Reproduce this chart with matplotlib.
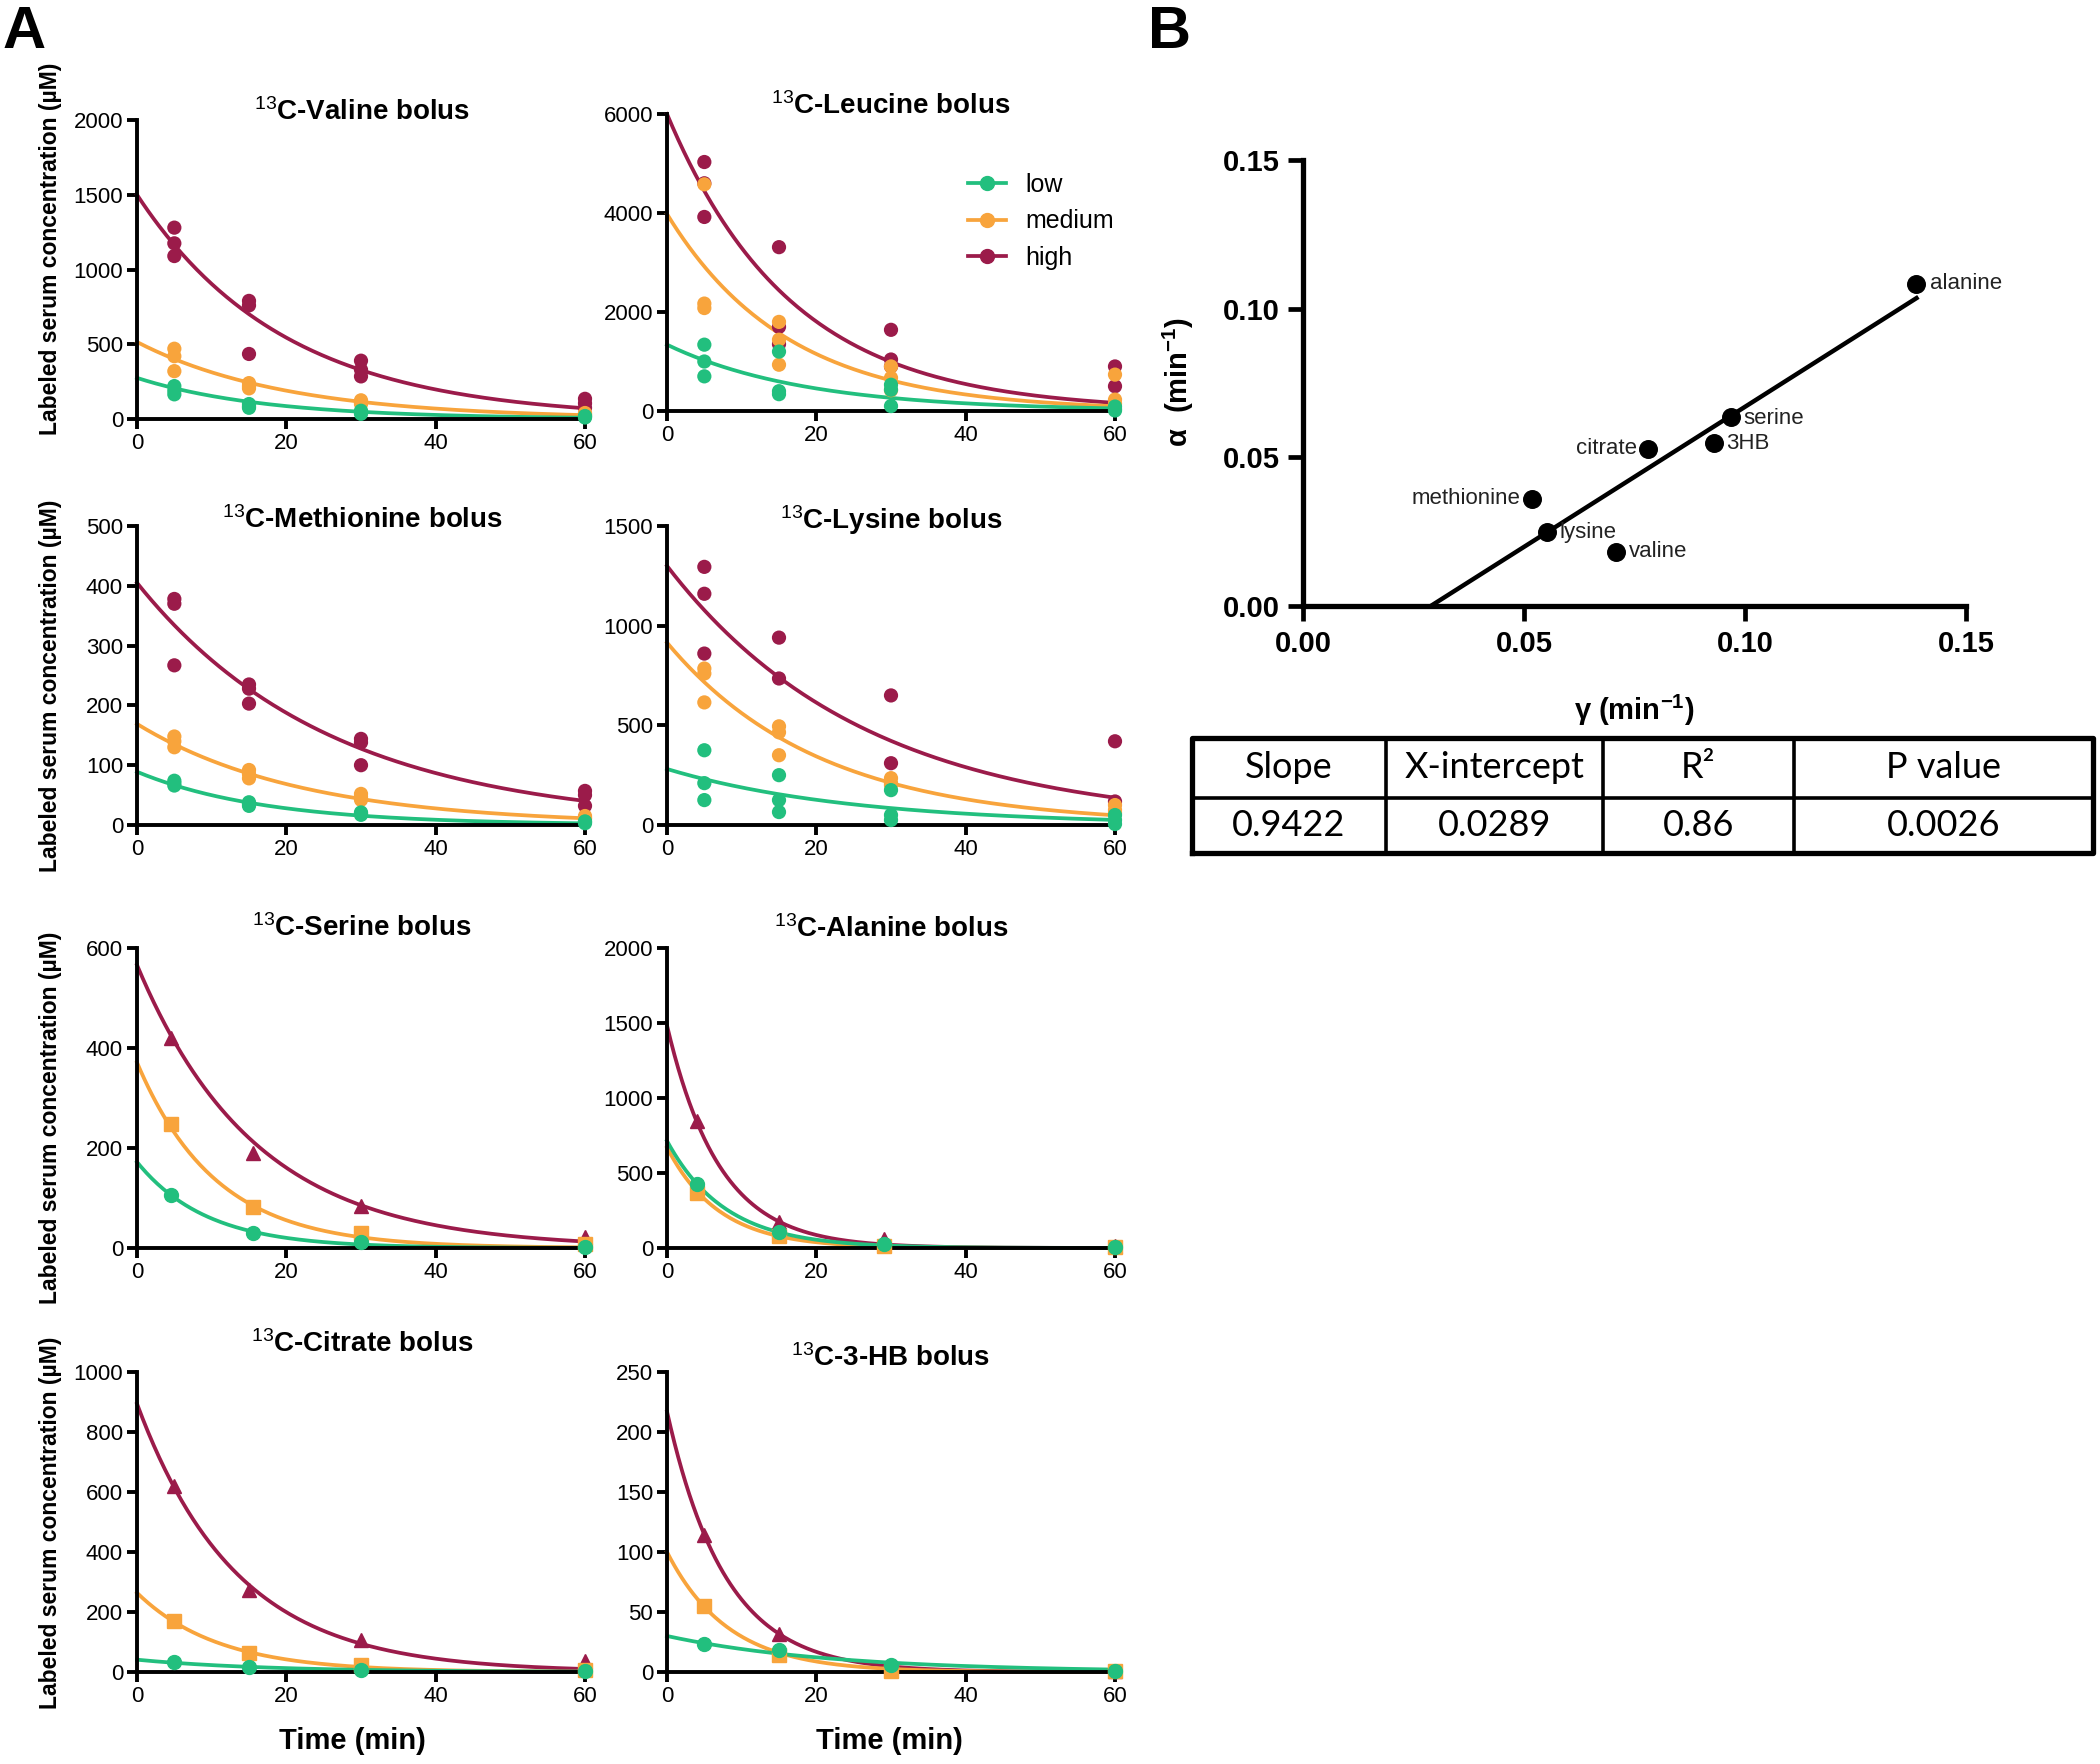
import numpy as np
import matplotlib.pyplot as plt
from matplotlib.lines import Line2D

plt.rcParams["font.family"] = ["Liberation Sans", "DejaVu Sans"]
plt.rcParams["mathtext.fontset"] = "custom"
plt.rcParams["mathtext.rm"] = "Liberation Sans"
plt.rcParams["mathtext.bf"] = "Liberation Sans:bold"
plt.rcParams["mathtext.it"] = "Liberation Sans:italic"

# --------------------------------------------
# data
# --------------------------------------------
doses = ["low", "medium", "high"]
rep_times = [5, 15, 30, 60]  # sampling times, replicate panels

# replicate values per time point (uM)
valine_low = [[220, 190, 165], [100, 85, 75], [55, 45, 35], [20, 15, 10]]
valine_med = [[470, 420, 320], [240, 220, 205], [125, 110, 100], [40, 30, 25]]
valine_high = [[1280, 1175, 1090], [790, 760, 435], [390, 330, 285], [135, 105, 75]]
# one-phase decay fits: (Y0, k) for low, medium, high
valine_fit = [(275, 0.058), (515, 0.050), (1500, 0.0507)]

leucine_low = [[1340, 1000, 700], [1200, 400, 340], [530, 430, 100], [90, 40, 10]]
leucine_med = [[4580, 2170, 2080], [1800, 1440, 935], [900, 670, 420], [735, 230, 150]]
leucine_high = [[5030, 4600, 3920], [3310, 1700, 1350], [1640, 1040, 900], [900, 500]]
leucine_fit = [(1340, 0.054), (3980, 0.062), (6000, 0.060)]

methionine_low = [[74, 70, 66], [38, 35, 32], [21, 19, 17], [6, 5, 3]]
methionine_med = [[148, 140, 130], [92, 85, 78], [52, 47, 42], [15, 12, 10]]
methionine_high = [[378, 370, 267], [235, 228, 203], [144, 138, 100], [57, 50, 32]]
methionine_fit = [(89, 0.058), (169, 0.0452), (405, 0.0385)]

lysine_low = [[375, 210, 125], [250, 125, 65], [175, 50, 25], [50, 25, 5]]
lysine_med = [[785, 760, 615], [495, 465, 350], [235, 210, 200], [100, 75, 60]]
lysine_high = [[1295, 1160, 860], [940, 735], [650, 310], [420, 118]]
lysine_fit = [(281, 0.040), (915, 0.0489), (1300, 0.0375)]

# mean values panels
serine_t = [4.5, 15.5, 30, 60]
serine_low = [107, 31, 12, 2]
serine_med = [249, 82, 31, 9]
serine_high = [420, 191, 85, 22]
serine_fit = [(172, 0.107), (371, 0.095), (566, 0.063)]

alanine_t = [4, 15, 29, 60]
alanine_low = [426, 104, 27, 4]
alanine_med = [370, 82, 16, 4]
alanine_high = [847, 175, 60, 16]
alanine_fit = [(714, 0.128), (670, 0.143), (1483, 0.142)]

citrate_t = [5, 15, 30, 60]
citrate_low = [33, 17, 6, 2]
citrate_med = [169, 64, 25, 8]
citrate_high = [621, 275, 108, 36]
citrate_fit = [(41, 0.058), (264, 0.092), (894, 0.075)]

hb_t = [5, 15, 30, 60]
hb_low = [23.3, 18.6, 6.1, 1]
hb_med = [55.4, 14.4, 1, 1]
hb_high = [114, 32, 4, 1]
hb_fit = [(30, 0.045), (100, 0.122), (217, 0.128)]

# panel B
metab_names = ["alanine", "serine", "3HB", "citrate", "methionine", "lysine", "valine"]
gamma = [0.1388, 0.0969, 0.0929, 0.0780, 0.0517, 0.0551, 0.0709]
alpha = [0.1083, 0.0635, 0.0548, 0.0529, 0.0361, 0.0248, 0.0183]
slope = 0.9422
x_intercept = 0.0289
table_header = ["Slope", "X-intercept", "R²", "P value"]
table_values = ["0.9422", "0.0289", "0.86", "0.0026"]

# --------------------------------------------
# style
# --------------------------------------------
colors = {"low": "#22bf7e", "medium": "#f8a43c", "high": "#9b1b4a"}
mean_markers = {"low": "o", "medium": "s", "high": "^"}
W, H = 2100, 1764

fig = plt.figure(figsize=(21, 17.64), dpi=100)


def style_axes(ax, ymax, ystep):
    ax.set_xlim(0, 60)
    ax.set_ylim(0, ymax)
    ax.set_xticks([0, 20, 40, 60])
    ax.set_yticks(np.arange(0, ymax + 1, ystep))
    for s in ["top", "right"]:
        ax.spines[s].set_visible(False)
    for s in ["left", "bottom"]:
        ax.spines[s].set_linewidth(2.8)
    ax.tick_params(width=2.8, length=7, labelsize=16, pad=3)


def draw_fits(ax, fits):
    t = np.linspace(0, 60, 241)
    for dose, (y0, k) in zip(doses[::-1], fits[::-1]):
        ax.plot(t, y0 * np.exp(-k * t), color=colors[dose], lw=2.7, zorder=2,
                clip_on=False)


def replicate_panel(ax, low, med, high, fits, ymax, ystep):
    style_axes(ax, ymax, ystep)
    for dose, reps in zip(["high", "medium", "low"], [high, med, low]):
        for t, vals in zip(rep_times, reps):
            ax.scatter([t] * len(vals), vals, s=105, color=colors[dose],
                       edgecolors="none", zorder=3, clip_on=False)
    draw_fits(ax, fits)


def mean_panel(ax, times, low, med, high, fits, ymax, ystep):
    style_axes(ax, ymax, ystep)
    draw_fits(ax, fits)
    for dose, vals in zip(["high", "medium", "low"], [high, med, low]):
        ax.plot(times, vals, ls="none", marker=mean_markers[dose], ms=10,
                color=colors[dose], zorder=3, clip_on=False)


col_x = [137 / W, 667 / W]
col_w = 448 / W
rows = [(419, 120), (825, 526), (1248, 948), (1672, 1372)]  # (zero, top) px


def rect(col, zero, top):
    return [col_x[col], 1 - zero / H, col_w, (zero - top) / H]


ax_val = fig.add_axes(rect(0, *rows[0]))
ax_leu = fig.add_axes(rect(1, 411, 114))
ax_met = fig.add_axes(rect(0, *rows[1]))
ax_lys = fig.add_axes(rect(1, *rows[1]))
ax_ser = fig.add_axes(rect(0, *rows[2]))
ax_ala = fig.add_axes(rect(1, *rows[2]))
ax_cit = fig.add_axes(rect(0, *rows[3]))
ax_hb = fig.add_axes(rect(1, *rows[3]))

replicate_panel(ax_val, valine_low, valine_med, valine_high, valine_fit, 2000, 500)
replicate_panel(ax_leu, leucine_low, leucine_med, leucine_high, leucine_fit, 6000, 2000)
replicate_panel(ax_met, methionine_low, methionine_med, methionine_high,
                methionine_fit, 500, 100)
replicate_panel(ax_lys, lysine_low, lysine_med, lysine_high, lysine_fit, 1500, 500)
mean_panel(ax_ser, serine_t, serine_low, serine_med, serine_high, serine_fit, 600, 200)
mean_panel(ax_ala, alanine_t, alanine_low, alanine_med, alanine_high, alanine_fit,
           2000, 500)
mean_panel(ax_cit, citrate_t, citrate_low, citrate_med, citrate_high, citrate_fit,
           1000, 200)
mean_panel(ax_hb, hb_t, hb_low, hb_med, hb_high, hb_fit, 250, 50)

# titles
titles = [
    ("Valine", 362, 112), ("Leucine", 891, 106),
    ("Methionine", 362, 520), ("Lysine", 891, 520),
    ("Serine", 362, 928), ("Alanine", 891, 929),
    ("Citrate", 362, 1344), ("3-HB", 891, 1358),
]
for name, x, y in titles:
    fig.text(x / W, 1 - y / H, r"$^{\mathrm{13}}$C-" + name + " bolus",
             fontsize=20, fontweight="bold", ha="center", va="center")

# y labels (one per row) and x labels
for yc in [249, 686, 1118, 1523]:
    fig.text(51 / W, 1 - yc / H, "Labeled serum concentration (µM)", rotation=90,
             fontsize=16.5, fontweight="bold", ha="center", va="center")
for xc in [352, 889]:
    fig.text(xc / W, 1 - 1741 / H, "Time (min)", fontsize=21, fontweight="bold",
             ha="center", va="center")

# legend inside leucine panel
handles = [Line2D([], [], color=colors[d], lw=2.7, marker="o", ms=10) for d in doses]
fig.legend(handles, doses, loc="upper left", bbox_to_anchor=(958 / W, 1 - 163 / H),
           frameon=False, fontsize=18, handlelength=1.5, labelspacing=0.5,
           handletextpad=0.8, borderaxespad=0)

# panel letters
fig.text(24 / W, 1 - 33 / H, "A", fontsize=43, fontweight="bold", ha="center",
         va="center")
fig.text(1169 / W, 1 - 33 / H, "B", fontsize=43, fontweight="bold", ha="center",
         va="center")

# --------------------------------------------
# panel B: alpha vs gamma
# --------------------------------------------
axb = fig.add_axes([1303 / W, 1 - 606 / H, 663 / W, 446 / H])
axb.set_xlim(0, 0.15)
axb.set_ylim(0, 0.15)
ticks = [0, 0.05, 0.10, 0.15]
axb.set_xticks(ticks)
axb.set_yticks(ticks)
axb.set_xticklabels([f"{v:.2f}" for v in ticks])
axb.set_yticklabels([f"{v:.2f}" for v in ticks])
for s in ["top", "right"]:
    axb.spines[s].set_visible(False)
for s in ["left", "bottom"]:
    axb.spines[s].set_linewidth(3.8)
axb.tick_params(width=3.4, length=11, labelsize=21, pad=6)
for lab in axb.get_xticklabels() + axb.get_yticklabels():
    lab.set_fontweight("bold")

xs = np.array([x_intercept, max(gamma)])
axb.plot(xs, slope * (xs - x_intercept), color="black", lw=3.2, zorder=2)
axb.scatter(gamma, alpha, s=160, color="black", zorder=3)

label_pos = {
    "alanine": (10, 0, "left"), "serine": (9, -1, "left"), "3HB": (9, 0, "left"),
    "citrate": (-8, 0, "right"), "methionine": (-8, 0, "right"),
    "lysine": (9, 0, "left"), "valine": (9, 0, "left"),
}
for name, gx, ay in zip(metab_names, gamma, alpha):
    dx, dy, ha = label_pos[name]
    axb.annotate(name, (gx, ay), xytext=(dx, dy), textcoords="offset points",
                 ha=ha, va="center", fontsize=16, color="#222222")

fig.text(1178 / W, 1 - 382 / H, r"α  (min$^{\mathbf{-1}}$)", rotation=90,
         fontsize=21, fontweight="bold", ha="center", va="center")
fig.text(1634 / W, 1 - 710 / H, r"γ (min$^{\mathbf{-1}}$)", fontsize=21,
         fontweight="bold", ha="center", va="center")

# --------------------------------------------
# table of regression statistics
# --------------------------------------------
tax = fig.add_axes([1192 / W, 1 - 853 / H, 901 / W, 115 / H])
tax.set_xlim(0, 1)
tax.set_ylim(0, 1)
tax.axis("off")
col_edges = [0, 194 / 901, 411 / 901, 602 / 901, 1]
mid = 1 - 60 / 115
tax.plot([0, 1, 1, 0, 0], [0, 0, 1, 1, 0], color="black", lw=3.8, clip_on=False)
tax.plot([0, 1], [mid, mid], color="black", lw=2.6)
for xe in col_edges[1:-1]:
    tax.plot([xe, xe], [0, 1], color="black", lw=2.6)
for i in range(4):
    xc = (col_edges[i] + col_edges[i + 1]) / 2
    tax.text(xc, (1 + mid) / 2, table_header[i], fontsize=26, ha="center",
             va="center", family=["Lato", "DejaVu Sans"])
    tax.text(xc, mid / 2, table_values[i], fontsize=26, ha="center", va="center",
             family=["Lato", "DejaVu Sans"])

fig.savefig("out.png", dpi=100)
